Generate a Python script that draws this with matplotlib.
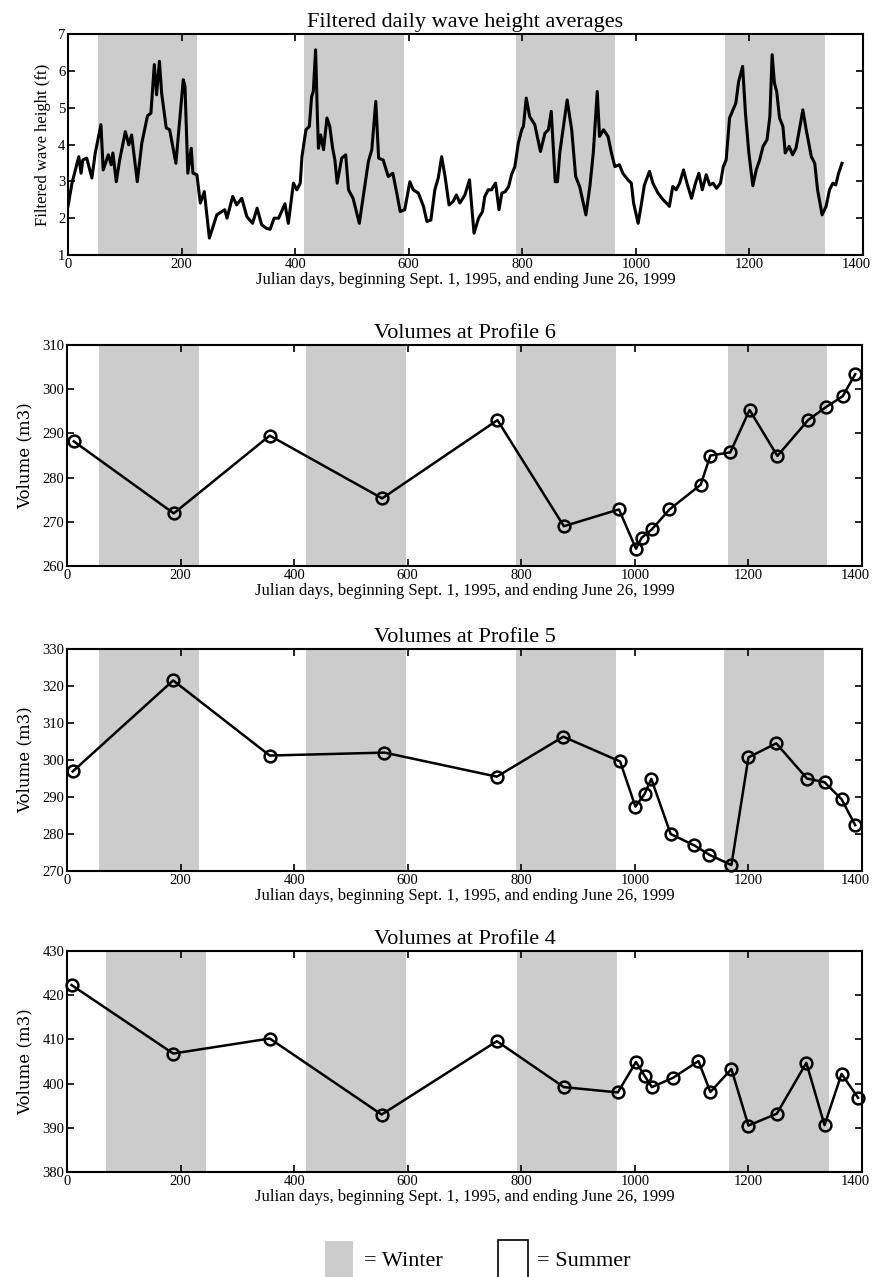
import matplotlib
matplotlib.use("Agg")
import matplotlib.pyplot as plt
from matplotlib.patches import Rectangle
from matplotlib.transforms import ScaledTranslation
import numpy as np

plt.rcParams['font.family'] = ['Liberation Serif', 'DejaVu Serif']

# filtered daily wave height (day, ft)
wave_days = [0, 7, 16, 19, 23, 26, 33, 42, 48, 58, 62, 71, 76, 79, 85, 91, 101, 107, 112, 122,
             130, 140, 146, 152, 156, 161, 165, 173, 179, 190, 203, 206, 211, 217, 220, 227,
             233, 240, 249, 262, 276, 280, 290, 297, 306, 315, 325, 333, 341, 350, 356, 363,
             371, 382, 388, 397, 403, 409, 412, 419, 425, 429, 432, 436, 439, 441, 445, 450,
             456, 461, 466, 470, 474, 482, 489, 494, 502, 513, 520, 529, 535, 542, 547, 555,
             564, 572, 579, 585, 593, 602, 608, 617, 626, 632, 639, 646, 652, 658, 664, 671,
             678, 684, 690, 699, 707, 715, 723, 730, 734, 740, 746, 749, 753, 759, 764, 770,
             776, 781, 787, 793, 799, 802, 807, 813, 822, 832, 840, 846, 851, 858, 862, 866,
             879, 887, 894, 901, 912, 919, 925, 932, 936, 943, 951, 957, 963, 971, 977, 986,
             992, 996, 1004, 1010, 1015, 1024, 1030, 1039, 1048, 1054, 1059, 1065, 1071, 1077,
             1084, 1090, 1098, 1105, 1111, 1117, 1124, 1130, 1136, 1142, 1149, 1154, 1159, 1165,
             1171, 1176, 1181, 1188, 1193, 1199, 1206, 1212, 1218, 1224, 1231, 1236, 1240, 1244,
             1248, 1253, 1259, 1263, 1270, 1276, 1282, 1289, 1294, 1300, 1309, 1315, 1320, 1328,
             1335, 1341, 1347, 1352, 1357, 1363]
wave_ft = [2.32, 2.95, 3.49, 3.67, 3.22, 3.58, 3.63, 3.09, 3.77, 4.54, 3.31, 3.72, 3.45, 3.77, 2.99,
           3.58, 4.35, 3.99, 4.26, 2.99, 4.04, 4.78, 4.85, 6.17, 5.35, 6.26, 5.38, 4.45, 4.40, 3.49,
           5.76, 5.58, 3.22, 3.90, 3.22, 3.18, 2.41, 2.72, 1.46, 2.09, 2.23, 2.00, 2.59, 2.36, 2.54,
           2.04, 1.86, 2.27, 1.82, 1.72, 1.70, 2.00, 2.00, 2.39, 1.86, 2.95, 2.77, 2.95, 3.67, 4.40,
           4.49, 5.30, 5.44, 6.57, 4.85, 3.90, 4.26, 3.86, 4.72, 4.49, 3.90, 3.58, 2.95, 3.63, 3.72,
           2.77, 2.54, 1.86, 2.59, 3.54, 3.86, 5.17, 3.63, 3.58, 3.13, 3.22, 2.68, 2.18, 2.23, 2.99,
           2.77, 2.68, 2.32, 1.91, 1.95, 2.77, 3.09, 3.67, 3.13, 2.36, 2.45, 2.63, 2.41, 2.63, 3.04,
           1.59, 2.00, 2.18, 2.59, 2.77, 2.77, 2.86, 2.95, 2.23, 2.68, 2.72, 2.86, 3.18, 3.40, 4.04,
           4.40, 4.49, 5.26, 4.76, 4.54, 3.81, 4.31, 4.40, 4.90, 2.99, 2.99, 3.77, 5.21, 4.40, 3.13,
           2.86, 2.09, 2.86, 3.77, 5.44, 4.22, 4.40, 4.22, 3.77, 3.40, 3.45, 3.22, 3.04, 2.95, 2.41,
           1.86, 2.41, 2.90, 3.27, 2.95, 2.68, 2.50, 2.41, 2.32, 2.86, 2.77, 2.95, 3.31, 2.95, 2.54,
           2.95, 3.22, 2.77, 3.18, 2.90, 2.95, 2.81, 2.95, 3.40, 3.58, 4.72, 4.94, 5.12, 5.71, 6.12,
           4.85, 3.77, 2.88, 3.31, 3.58, 3.95, 4.13, 4.76, 6.44, 5.67, 5.44, 4.72, 4.49, 3.77, 3.95,
           3.72, 3.90, 4.49, 4.94, 4.40, 3.67, 3.49, 2.77, 2.09, 2.32, 2.77, 2.95, 2.90, 3.22, 3.49]

# survey days and volumes
p6_days = [12, 188, 357, 555, 758, 875, 972, 1002, 1012, 1030, 1061, 1116, 1133, 1168, 1202,
           1251, 1305, 1337, 1366, 1388]
p6_vol = [288.2, 271.9, 289.5, 275.3, 293.0, 269.0, 272.8, 263.9, 266.4, 268.3, 272.8, 278.4,
          285.0, 285.7, 295.3, 284.9, 293.0, 296.0, 298.4, 303.4]

p5_days = [10, 187, 357, 559, 757, 874, 974, 1001, 1017, 1029, 1063, 1105, 1131, 1170, 1200,
           1249, 1303, 1334, 1364, 1388]
p5_vol = [296.9, 321.5, 301.2, 302.0, 295.5, 306.3, 299.6, 287.4, 290.8, 294.9, 280.0, 276.9,
          274.4, 271.6, 300.7, 304.5, 295.0, 294.0, 289.4, 282.4]

p4_days = [8, 187, 357, 554, 757, 875, 970, 1002, 1017, 1030, 1067, 1112, 1133, 1170, 1200,
           1250, 1302, 1334, 1364, 1393]
p4_vol = [422.3, 406.8, 410.2, 393.0, 409.6, 399.2, 398.0, 404.9, 401.8, 399.2, 401.3, 405.1,
          398.1, 403.3, 390.5, 393.2, 404.7, 390.6, 402.2, 396.8]

# winter periods (start day, end day) as drawn in each panel
winters_wave = [(52, 227), (416, 592), (789, 964), (1157, 1333)]
winters_p6 = [(57, 233), (420, 597), (791, 967), (1164, 1339)]
winters_p5 = [(56, 232), (420, 597), (790, 966), (1157, 1333)]
winters_p4 = [(68, 244), (420, 597), (793, 969), (1166, 1342)]

xlab = "Julian days, beginning Sept. 1, 1995, and ending June 26, 1999"
grey = "#cccccc"

W, H = 875, 1277
fig = plt.figure(figsize=(W / 100, H / 100), dpi=100)


def px_axes(l, t, r, b):
    return fig.add_axes([l / W, 1 - b / H, (r - l) / W, (b - t) / H])


def style(ax, ylim, yticks):
    ax.set_xlim(0, 1400)
    ax.set_ylim(*ylim)
    ax.set_xticks(np.arange(0, 1401, 200))
    ax.set_yticks(yticks)
    ax.tick_params(direction='in', top=True, right=True, length=5, width=1.2,
                   labelsize=10.5, pad=2)
    for s in ax.spines.values():
        s.set_linewidth(1.5)
    ax.set_xlabel(xlab, fontsize=12, labelpad=1)
    # keep the last label inside the figure
    last = ax.get_xticklabels()[-1]
    last.set_horizontalalignment('right')
    last.set_transform(last.get_transform() + ScaledTranslation(8 / 100, 0, fig.dpi_scale_trans))


# top panel: wave heights
ax1 = px_axes(68, 34, 863, 255)
for a, b in winters_wave:
    ax1.axvspan(a, b, color=grey, lw=0, zorder=0)
ax1.plot(wave_days, wave_ft, color='black', lw=2.2, zorder=3)
style(ax1, (1, 7), range(1, 8))
ax1.set_ylabel("Filtered wave height (ft)", fontsize=12, labelpad=5)
ax1.set_title("Filtered daily wave height averages", fontsize=16, pad=5)

panels = [
    ("Volumes at Profile 6", p6_days, p6_vol, winters_p6, (260, 310), range(260, 311, 10), 345, 566),
    ("Volumes at Profile 5", p5_days, p5_vol, winters_p5, (270, 330), range(270, 331, 10), 649, 871),
    ("Volumes at Profile 4", p4_days, p4_vol, winters_p4, (380, 430), range(380, 431, 10), 951, 1172),
]
for title, d, v, wins, ylim, yt, top, bot in panels:
    ax = px_axes(67, top, 862, bot)
    for a, b in wins:
        ax.axvspan(a, b, color=grey, lw=0, zorder=0)
    ax.plot(d, v, color='black', lw=1.8, marker='o', ms=8.5, mfc='none',
            mec='black', mew=1.8, zorder=3, clip_on=False)
    style(ax, ylim, yt)
    ax.set_ylabel("Volume (m3)", fontsize=12, family='DejaVu Serif', labelpad=6)
    ax.set_title(title, fontsize=16, pad=5)

# legend boxes at the bottom
fig.patches.append(Rectangle((325 / W, 0), 28 / W, 36 / H, transform=fig.transFigure,
                             facecolor=grey, edgecolor='none'))
fig.patches.append(Rectangle((498 / W, -0.01), 30 / W, 37 / H + 0.01, transform=fig.transFigure,
                             facecolor='white', edgecolor='black', lw=1.2))
fig.text(364 / W, 1 - 1262 / H, "= Winter", fontsize=16, va='center', ha='left')
fig.text(537 / W, 1 - 1262 / H, "= Summer", fontsize=16, va='center', ha='left')

fig.savefig("out.png", dpi=100)
